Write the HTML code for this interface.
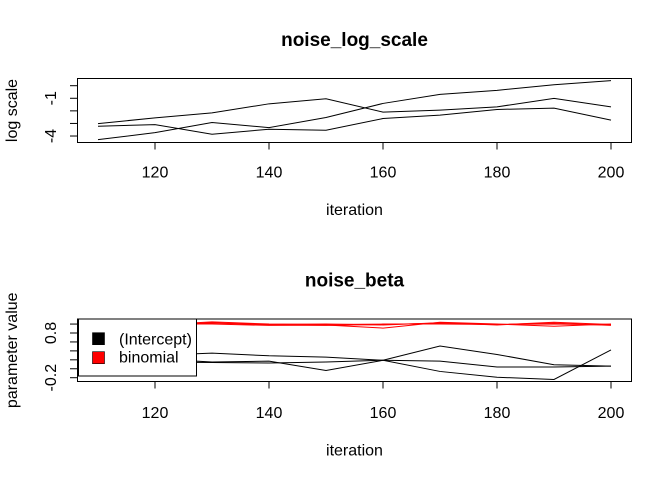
<!DOCTYPE html>
<html><head><meta charset="utf-8"><style>
html,body{margin:0;padding:0;background:#fff;}
svg{display:block;font-family:"Liberation Sans",Arial,sans-serif;}
</style></head><body>
<svg id="chart" width="672" height="480" viewBox="0 0 672 480" xmlns="http://www.w3.org/2000/svg">
<g id="topPanel"></g>
<g id="botPanel"></g>
</svg>
<script>
const iterations = [110,120,130,140,150,160,170,180,190,200];
const logScaleA = [-3.01,-2.56,-2.16,-1.44,-1.04,-2.10,-1.94,-1.68,-1.01,-1.68];
const logScaleB = [-3.22,-3.09,-3.86,-3.46,-3.54,-2.61,-2.34,-1.89,-1.78,-2.74];
const logScaleC = [-4.29,-3.73,-2.93,-3.33,-2.53,-1.41,-0.69,-0.37,0.08,0.40];
const interceptA = [0.30,0.30,0.35,0.29,0.26,0.19,0.17,0.04,0.04,0.06];
const interceptB = [0.20,0.22,0.15,0.17,-0.04,0.19,0.51,0.32,0.09,0.06];
const interceptC = [0.15,0.15,0.14,0.13,0.15,0.19,-0.06,-0.19,-0.24,0.42];
const binomialA = [0.99,1.00,1.00,0.97,0.98,0.91,1.04,1.00,0.95,1.00];
const binomialB = [0.96,0.98,1.05,1.00,0.99,1.00,1.00,0.99,1.02,0.97];
const binomialC = [0.97,0.99,1.02,0.99,1.00,0.98,1.03,0.98,1.04,0.99];
const binomialD = [0.95,0.97,1.03,0.98,0.97,0.99,1.02,0.99,1.00,0.98];
const xTicks = [120,140,160,180,200];
const topYTicks = [0,-1,-2,-3,-4];
const topYLabels = ["","-1","","","-4"];
const botYTicks = [1.0,0.8,0.6,0.4,0.2,0.0,-0.2];
const botYLabels = ["","0.8","","","","","-0.2"];

const NS="http://www.w3.org/2000/svg";
function mk(parent,tag,attrs,text){const e=document.createElementNS(NS,tag);for(const k in attrs)e.setAttribute(k,attrs[k]);if(text!==undefined)e.textContent=text;parent.appendChild(e);return e;}
const xs = v => 155 + (v-120)*5.7;

function panel(g, boxTop, boxBot, yScale, yTicks, yLabels, title, ytitle, off){
  const t=mk(g,'text',{x:354.5,y:46+off,'text-anchor':'middle','font-size':19,'font-weight':'bold'},title);
  
  
  const r=mk(g,'rect',{x:77.5,y:boxTop,width:554,height:boxBot-boxTop,fill:'none',stroke:'#000','stroke-width':1});
  
  
  xTicks.forEach(v=>{
    const l=mk(g,'line',{x1:xs(v),x2:xs(v),y1:boxBot,y2:boxBot+7,stroke:'#000'});
    
    
    const tx=mk(g,'text',{x:xs(v),y:177.5+off,'text-anchor':'middle','font-size':16},String(v));
    
    
  });
  yTicks.forEach((v,i)=>{
    const y=yScale(v);
    const l=mk(g,'line',{x1:70,x2:77.5,y1:y,y2:y,stroke:'#000'});
    
    
    if(yLabels[i]){
      const tx=mk(g,'text',{x:0,y:0,'text-anchor':'middle','font-size':16,transform:`translate(56,${y}) rotate(-90)`},yLabels[i]);
      
      
    }
  });
  const xt=mk(g,'text',{x:354.5,y:215+off,'text-anchor':'middle','font-size':16},'iteration');
  
  
  const yt=mk(g,'text',{x:0,y:0,'text-anchor':'middle','font-size':16,transform:`translate(17,${(boxTop+boxBot)/2}) rotate(-90)`},ytitle);
  
  
}
function series(g,vals,yScale,color,name){
  const p=mk(g,'polyline',{points:vals.map((v,i)=>xs(iterations[i])+','+yScale(v)).join(' '),fill:'none',stroke:color,'stroke-width':1});
  
  
}
const topPanel=document.getElementById('topPanel');
const yTop=v=>85.7-v*12.58;
panel(topPanel,78.5,142.5,yTop,topYTicks,topYLabels,'noise_log_scale','log scale',0);
series(topPanel,logScaleA,yTop,'#000','log-scale-line-1');
series(topPanel,logScaleB,yTop,'#000','log-scale-line-2');
series(topPanel,logScaleC,yTop,'#000','log-scale-line-3');

const botPanel=document.getElementById('botPanel');
const yBot=v=>377.7-(v+0.2)*44.7;
panel(botPanel,319,381.5,yBot,botYTicks,botYLabels,'noise_beta','parameter value',240.5);
series(botPanel,interceptA,yBot,'#000','intercept-line-1');
series(botPanel,interceptB,yBot,'#000','intercept-line-2');
series(botPanel,interceptC,yBot,'#000','intercept-line-3');
series(botPanel,binomialA,yBot,'#ff0000','binomial-line-1');
series(botPanel,binomialB,yBot,'#ff0000','binomial-line-2');
series(botPanel,binomialC,yBot,'#ff0000','binomial-line-3');
series(botPanel,binomialD,yBot,'#ff0000','binomial-line-4');

const lg=mk(botPanel,'g',{});


const lb=mk(lg,'rect',{x:78.5,y:319,width:118,height:57,fill:'#fff',stroke:'#000'});


[['#000','(Intercept)',332.7,344.3],['#ff0000','binomial',351.7,362.7]].forEach(([c,label,sy,by])=>{
  const e=mk(lg,'g',{});
  
  
  mk(e,'rect',{x:92.5,y:sy,width:12,height:12,fill:c,stroke:'#000','stroke-width':0.6});
  mk(e,'text',{x:119,y:by,'font-size':16},label);
});
</script>
</body></html>
